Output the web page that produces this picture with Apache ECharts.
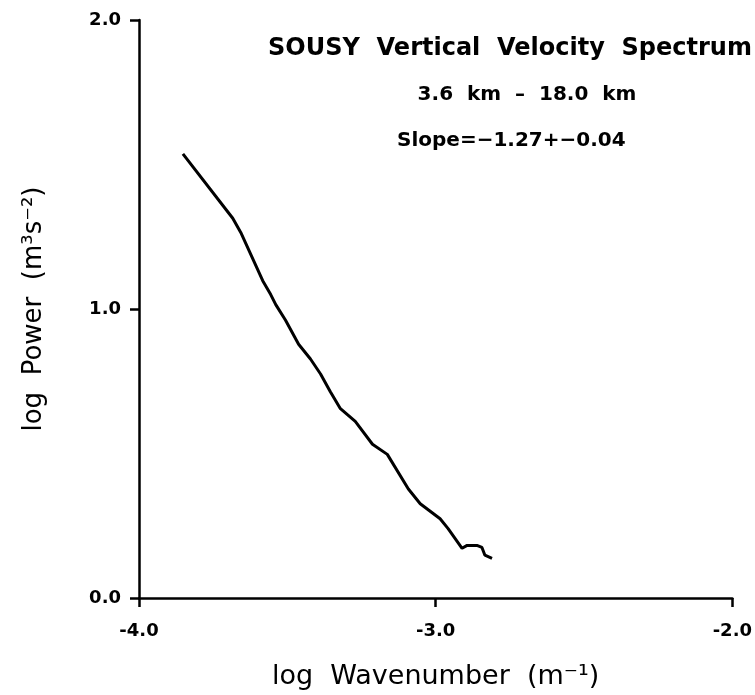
<!DOCTYPE html>
<html>
<head>
<meta charset="utf-8">
<script src="https://cdn.jsdelivr.net/npm/echarts@6/dist/echarts.min.js"></script>
<style>
  html, body { margin: 0; padding: 0; background: #fff; }
  #chart { width: 755px; height: 695px; }
</style>
</head>
<body>
<div id="chart"></div>
<script>
// log wavenumber (x) and log power (y)
const logK = [-3.852, -3.684, -3.657, -3.583, -3.556, -3.539, -3.506, -3.462, -3.422, -3.388,
  -3.355, -3.321, -3.271, -3.213, -3.163, -3.092, -3.052, -2.985, -2.958, -2.911,
  -2.894, -2.861, -2.844, -2.834, -2.810];
const logP = [1.537, 1.314, 1.265, 1.098, 1.050, 1.015, 0.961, 0.878, 0.827, 0.775,
  0.714, 0.655, 0.611, 0.532, 0.497, 0.377, 0.326, 0.274, 0.240, 0.172,
  0.182, 0.182, 0.175, 0.148, 0.137];
const xTicks = ["-4.0", "-3.0", "-2.0"];
const yTicks = ["0.0", "1.0", "2.0"];

const font = "'DejaVu Sans', sans-serif";
const chart = echarts.init(document.getElementById("chart"));

chart.setOption({
  animation: false,
  title: [
    {
      text: "SOUSY  Vertical  Velocity  Spectrum",
      left: 505, top: 32, textAlign: "center",
      textStyle: { fontFamily: font, fontSize: 24, fontWeight: "bold", color: "#000" }
    },
    {
      text: "3.6  km  \u2013  18.0  km",
      left: 522, top: 80, textAlign: "center",
      textStyle: { fontFamily: font, fontSize: 20, fontWeight: "bold", color: "#000" }
    },
    {
      text: "Slope=\u22121.27+\u22120.04",
      left: 392, top: 126,
      textStyle: { fontFamily: font, fontSize: 20, fontWeight: "bold", color: "#000" }
    }
  ],
  grid: { left: 139, right: 22, top: 20, bottom: 91 },
  xAxis: {
    type: "value",
    min: -4, max: -2, interval: 1,
    name: "log  Wavenumber  (m\u207B\u00B9)",
    nameLocation: "middle",
    nameGap: 65,
    nameTextStyle: { fontFamily: font, fontSize: 27, color: "#000" },
    axisLine: { lineStyle: { color: "#000", width: 2.5 } },
    axisTick: { length: 9, lineStyle: { color: "#000", width: 2.5 } },
    axisLabel: {
      margin: 24, fontFamily: font, fontSize: 18, fontWeight: "bold", color: "#000",
      formatter: v => xTicks[Math.round(v + 4)]
    },
    splitLine: { show: false }
  },
  yAxis: {
    type: "value",
    min: 0, max: 2, interval: 1,
    name: "log  Power  (m\u00B3s\u207B\u00B2)",
    nameLocation: "middle",
    nameGap: 92,
    nameTextStyle: { fontFamily: font, fontSize: 26, color: "#000" },
    axisLine: { lineStyle: { color: "#000", width: 2.5 } },
    axisTick: { length: 9, lineStyle: { color: "#000", width: 2.5 } },
    axisLabel: {
      margin: 18, fontFamily: font, fontSize: 18, fontWeight: "bold", color: "#000",
      formatter: v => yTicks[Math.round(v)]
    },
    splitLine: { show: false }
  },
  series: [{
    type: "line",
    data: logK.map((x, i) => [x, logP[i]]),
    showSymbol: false,
    lineStyle: { color: "#000", width: 3 }
  }]
});
</script>
</body>
</html>
